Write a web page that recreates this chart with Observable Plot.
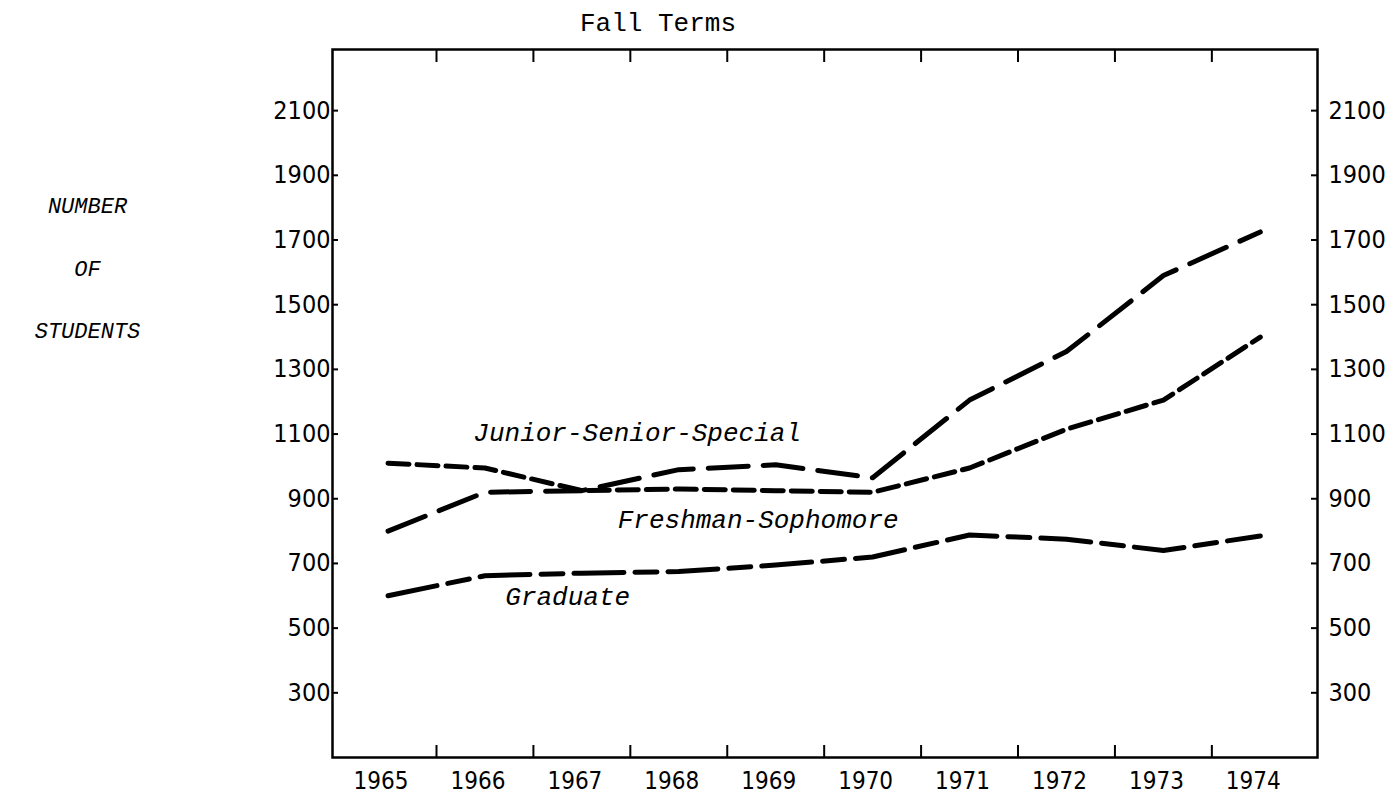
<!DOCTYPE html>
<html><head><meta charset="utf-8">
<script src="https://cdn.jsdelivr.net/npm/d3@7"></script>
<script src="https://cdn.jsdelivr.net/npm/@observablehq/plot@0.6"></script>
<style>html,body{margin:0;padding:0;background:#fff}svg{display:block}</style>
</head><body><div id="chart"></div>
<script>
// ---- data ----
const years = [1965, 1966, 1967, 1968, 1969, 1970, 1971, 1972, 1973, 1974];
const juniorSeniorSpecial = [800, 920, 925, 990, 1005, 965, 1205, 1355, 1590, 1725];
const freshmanSophomore  = [1010, 995, 925, 930, 925, 920, 995, 1115, 1205, 1400];
const graduate           = [600, 662, 670, 675, 695, 720, 788, 775, 740, 785];
const yTickValues = [300, 500, 700, 900, 1100, 1300, 1500, 1700, 1900, 2100];
const seriesNames = ["Junior-Senior-Special", "Freshman-Sophomore", "Graduate"];
const labelYears  = [1965.88, 1967.37, 1966.21];
const labelValues = [1080, 811, 573];
const axisTitleLines = ["NUMBER", "OF", "STUDENTS"];
const topTitle = "Fall Terms";

// ---- derived tables ----
const rows = vals => years.map((year, i) => ({year, value: vals[i]}));
const boundaries = years.slice(0, -1).map(y => y + 0.5);
const labels = seriesNames.map((name, i) => ({name, year: labelYears[i], value: labelValues[i]}));

const mono = "'Liberation Mono','DejaVu Sans Mono',monospace";
const sans = "'DejaVu Sans Condensed','DejaVu Sans',sans-serif";
const L = 332, R = 1317, T = 49, B = 757;
const fw = R - L, fh = B - T;

const chart = Plot.plot({
  width: 1394, height: 794,
  marginLeft: L, marginRight: 1394 - R, marginTop: T, marginBottom: 794 - B,
  style: {background: "#fff", color: "#000", fontFamily: sans, fontSize: "25px", fontStretch: "condensed"},
  x: {domain: [1964.427, 1974.59], axis: null},
  y: {domain: [100, 2289], axis: null},
  marks: [
    Plot.frame({stroke: "#000", strokeWidth: 2.5}),
    // inward ticks
    Plot.tickX(boundaries, {x: d => d, stroke: "#000", strokeWidth: 2, insetTop: fh - 12}),
    Plot.tickX(boundaries, {x: d => d, stroke: "#000", strokeWidth: 2, insetBottom: fh - 13}),
    Plot.tickY(yTickValues, {y: d => d, stroke: "#000", strokeWidth: 2, insetRight: fw - 6}),
    Plot.tickY(yTickValues, {y: d => d, stroke: "#000", strokeWidth: 2, insetLeft: fw - 6}),
    // tick labels
    Plot.axisX(years, {anchor: "bottom", tickSize: 0, tickPadding: 14, dx: -7, tickFormat: d => String(d), label: null, fontSize: 24}),
    Plot.axisY(yTickValues, {anchor: "left", tickSize: 0, tickPadding: 2, tickFormat: d => String(d), label: null, fontSize: 25}),
    Plot.axisY(yTickValues, {anchor: "right", tickSize: 0, tickPadding: 11, tickFormat: d => String(d), label: null, fontSize: 25}),
    // series
    Plot.line(rows(juniorSeniorSpecial), {x: "year", y: "value", stroke: "#000", strokeWidth: 5, strokeDasharray: "40,15"}),
    Plot.line(rows(freshmanSophomore), {x: "year", y: "value", stroke: "#000", strokeWidth: 5, strokeDasharray: "21,8"}),
    Plot.line(rows(graduate), {x: "year", y: "value", stroke: "#000", strokeWidth: 5, strokeDasharray: "50,11,22,11"}),
    // series labels
    Plot.text(labels, {x: "year", y: "value", text: "name", textAnchor: "start", lineAnchor: "bottom",
      fontFamily: mono, fontStyle: "italic", fontSize: 26, fill: "#000"}),
    // titles
    Plot.text([topTitle], {frameAnchor: "top", dx: -167, dy: -19, lineAnchor: "bottom", fontFamily: mono, fontSize: 26, fill: "#000"}),
    Plot.text([axisTitleLines[0]], {frameAnchor: "top-left", dx: -245, dy: 156, textAnchor: "middle", lineAnchor: "middle", fontFamily: mono, fontStyle: "italic", fontSize: 22, fill: "#000"}),
    Plot.text([axisTitleLines[1]], {frameAnchor: "top-left", dx: -245, dy: 219, textAnchor: "middle", lineAnchor: "middle", fontFamily: mono, fontStyle: "italic", fontSize: 22, fill: "#000"}),
    Plot.text([axisTitleLines[2]], {frameAnchor: "top-left", dx: -245, dy: 281, textAnchor: "middle", lineAnchor: "middle", fontFamily: mono, fontStyle: "italic", fontSize: 22, fill: "#000"})
  ]
});
document.getElementById("chart").appendChild(chart);
</script>
</body></html>
